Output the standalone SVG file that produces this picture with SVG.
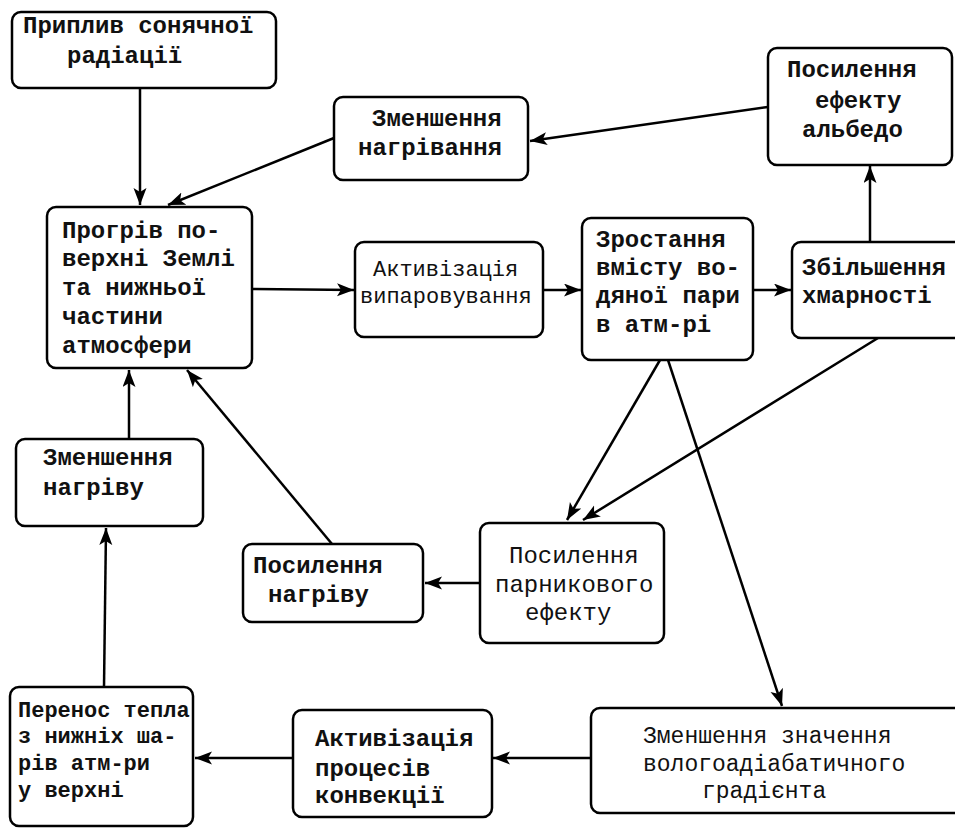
<svg xmlns="http://www.w3.org/2000/svg" width="955" height="828" viewBox="0 0 955 828">
<style>
  .box { fill: #fff; stroke: #000; stroke-width: 2.5; }
  .b { font-family: "Courier New", "Nimbus Mono PS", "FreeMono", "Liberation Mono", monospace; font-weight: bold; font-size: 24px; fill: #111; }
  .r { font-family: "Courier New", "Nimbus Mono PS", "FreeMono", "Liberation Mono", monospace; font-size: 23px; fill: #111; }
  .con line { stroke: #000; stroke-width: 2.5; marker-end: url(#ah); }
</style>
<defs>
  <marker id="ah" markerUnits="userSpaceOnUse" markerWidth="20" markerHeight="14" refX="17" refY="6.5" orient="auto">
    <path d="M0,0 L17,6.5 L0,13 L4,6.5 z" fill="#000"/>
  </marker>
</defs>
<rect width="955" height="828" fill="#fff"/>

<g id="connectors" class="con">
  <line x1="140" y1="88" x2="140" y2="205"/>
  <line x1="334" y1="138" x2="168" y2="205"/>
  <line x1="768" y1="107" x2="530" y2="141"/>
  <line x1="252" y1="289" x2="354" y2="290"/>
  <line x1="543" y1="290" x2="581" y2="290"/>
  <line x1="753" y1="290" x2="791" y2="290"/>
  <line x1="870" y1="242" x2="870" y2="166"/>
  <line x1="660" y1="360" x2="567" y2="520"/>
  <line x1="878" y1="338" x2="583" y2="520"/>
  <line x1="668" y1="360" x2="782" y2="706"/>
  <line x1="480" y1="583" x2="425" y2="583"/>
  <line x1="332" y1="544" x2="187" y2="370"/>
  <line x1="129" y1="439" x2="129" y2="370"/>
  <line x1="104" y1="687" x2="106" y2="528"/>
  <line x1="591" y1="758" x2="493" y2="758"/>
  <line x1="293" y1="758" x2="195" y2="758"/>
</g>

<g id="n_solar">
  <rect class="box" x="12" y="12" width="264" height="76" rx="9"/>
  <text class="b" x="23" y="33">Приплив сонячної</text>
  <text class="b" x="67" y="63">радіації</text>
</g>

<g id="n_heat">
  <rect class="box" x="47" y="207" width="205" height="161" rx="9"/>
  <text class="b" x="62" y="238">Прогрів по-</text>
  <text class="b" x="62" y="266">верхні Землі</text>
  <text class="b" x="62" y="295">та нижньої</text>
  <text class="b" x="62" y="324">частини</text>
  <text class="b" x="62" y="353">атмосфери</text>
</g>

<g id="n_less_heating">
  <rect class="box" x="334" y="97" width="194" height="83" rx="9"/>
  <text class="b" x="372" y="126">Зменшення</text>
  <text class="b" x="358" y="155">нагрівання</text>
</g>

<g id="n_albedo">
  <rect class="box" x="768" y="48" width="184" height="117" rx="9"/>
  <text class="b" x="787" y="77">Посилення</text>
  <text class="b" x="815" y="108">ефекту</text>
  <text class="b" x="802" y="137">альбедо</text>
</g>

<g id="n_evap">
  <rect class="box" x="355" y="242" width="188" height="95" rx="9"/>
  <text class="r" x="373" y="276" style="font-size:22px">Активізація</text>
  <text class="r" x="360" y="303" style="font-size:22px">випаровування</text>
</g>

<g id="n_vapor">
  <rect class="box" x="582" y="218" width="171" height="142" rx="9"/>
  <text class="b" x="596" y="247">Зростання</text>
  <text class="b" x="596" y="275">вмісту во-</text>
  <text class="b" x="596" y="303">дяної пари</text>
  <text class="b" x="596" y="332">в атм-рі</text>
</g>

<g id="n_cloud">
  <rect class="box" x="792" y="242" width="172" height="96" rx="9"/>
  <text class="b" x="802" y="275">Збільшення</text>
  <text class="b" x="802" y="303">хмарності</text>
</g>

<g id="n_greenhouse">
  <rect class="box" x="480" y="523" width="184" height="120" rx="9"/>
  <text class="r" x="509" y="563" style="font-size:24px">Посилення</text>
  <text class="r" x="495" y="592" style="font-size:24px">парникового</text>
  <text class="r" x="525" y="620" style="font-size:24px">ефекту</text>
</g>

<g id="n_less_heat2">
  <rect class="box" x="16" y="439" width="187" height="87" rx="9"/>
  <text class="b" x="43" y="465">Зменшення</text>
  <text class="b" x="43" y="495">нагріву</text>
</g>

<g id="n_more_heat">
  <rect class="box" x="243" y="544" width="180" height="78" rx="9"/>
  <text class="b" x="253" y="573">Посилення</text>
  <text class="b" x="268" y="602">нагріву</text>
</g>

<g id="n_gradient">
  <rect class="box" x="591" y="708" width="372" height="105" rx="9"/>
  <text class="r" x="643" y="743">Зменшення значення</text>
  <text class="r" x="643" y="771">вологоадіабатичного</text>
  <text class="r" x="702" y="798">градієнта</text>
</g>

<g id="n_convection">
  <rect class="box" x="293" y="710" width="199" height="107" rx="9"/>
  <text class="b" x="315" y="746">Активізація</text>
  <text class="b" x="315" y="776">процесів</text>
  <text class="b" x="315" y="803">конвекції</text>
</g>

<g id="n_transfer">
  <rect class="box" x="10" y="687" width="183" height="139" rx="9"/>
  <text class="b" x="18" y="717" style="font-size:22px">Перенос тепла</text>
  <text class="b" x="18" y="743" style="font-size:22px">з нижніх ша-</text>
  <text class="b" x="18" y="770" style="font-size:22px">рів атм-ри</text>
  <text class="b" x="18" y="797" style="font-size:22px">у верхні</text>
</g>
</svg>
